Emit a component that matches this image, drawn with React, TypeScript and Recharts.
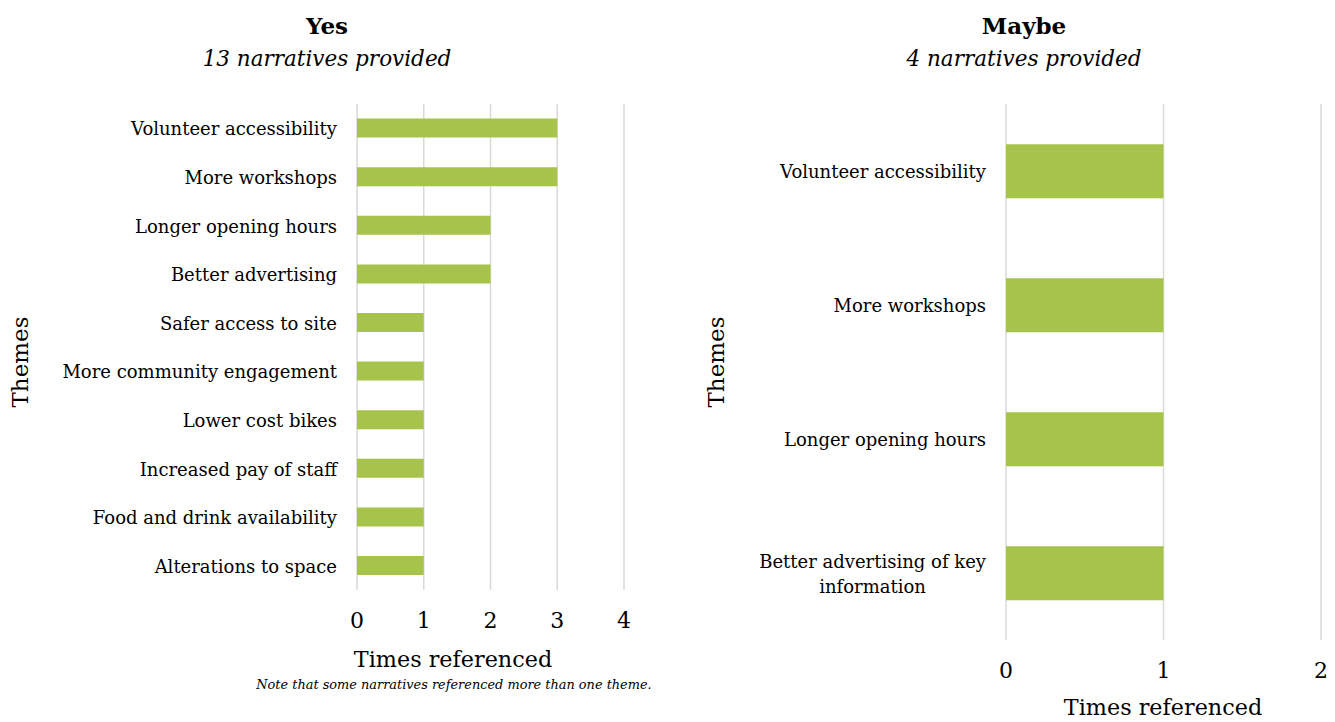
import { Bar, BarChart, CartesianGrid, XAxis, YAxis } from 'recharts';

// Two survey panels side by side: themes raised by "Yes" and "Maybe" respondents.

const YES_THEMES = [
  'Volunteer accessibility',
  'More workshops',
  'Longer opening hours',
  'Better advertising',
  'Safer access to site',
  'More community engagement',
  'Lower cost bikes',
  'Increased pay of staff',
  'Food and drink availability',
  'Alterations to space',
];
const YES_COUNTS = [3, 3, 2, 2, 1, 1, 1, 1, 1, 1];
const YES_TICKS = [0, 1, 2, 3, 4];

const MAYBE_THEMES = [
  'Volunteer accessibility',
  'More workshops',
  'Longer opening hours',
  'Better advertising of key information',
];
const MAYBE_COUNTS = [1, 1, 1, 1];
const MAYBE_TICKS = [0, 1, 2];

const FONT = '"DejaVu Serif", serif';
const BAR_COLOR = '#A6C34B';
const GRID_COLOR = '#D9D9D9';
const LABEL_SIZE = 18;

let measureCtx: CanvasRenderingContext2D | null = null;
function textWidth(text: string, size: number): number {
  if (!measureCtx) measureCtx = document.createElement('canvas').getContext('2d');
  if (!measureCtx) return text.length * size * 0.55;
  measureCtx.font = `${size}px ${FONT}`;
  return measureCtx.measureText(text).width;
}

function wrapWords(text: string, maxWidth: number, size: number): string[] {
  const lines: string[] = [];
  let cur = '';
  for (const w of text.split(' ')) {
    const next = cur ? `${cur} ${w}` : w;
    if (cur && textWidth(next, size) > maxWidth) {
      lines.push(cur);
      cur = w;
    } else {
      cur = next;
    }
  }
  if (cur) lines.push(cur);
  return lines;
}

function ThemeTick(props: any) {
  const { x, y, payload, maxWidth } = props;
  const lines = wrapWords(String(payload.value), maxWidth, LABEL_SIZE);
  const blockW = Math.max(...lines.map((l) => textWidth(l, LABEL_SIZE)));
  const cx = x - blockW / 2;
  const lineH = 25;
  const y0 = y - ((lines.length - 1) * lineH) / 2;
  return (
    <text
      x={cx}
      y={y0}
      textAnchor="middle"
      dominantBaseline="central"
      fontFamily={FONT}
      fontSize={LABEL_SIZE}
      fill="#000"
    >
      {lines.map((l, i) => (
        <tspan key={i} x={cx} y={y0 + i * lineH}>
          {l}
        </tspan>
      ))}
    </text>
  );
}

function ThemePanel({
  themes,
  counts,
  ticks,
  width,
  height,
  axisWidth,
  margin,
  wrapWidth,
}: {
  themes: string[];
  counts: number[];
  ticks: number[];
  width: number;
  height: number;
  axisWidth: number;
  margin: { top: number; right: number; bottom: number; left: number };
  wrapWidth: number;
}) {
  const data = themes.map((theme, i) => ({ theme, count: counts[i] }));
  return (
    <BarChart
      width={width}
      height={height}
      data={data}
      layout="vertical"
      margin={margin}
      barCategoryGap="30%"
    >
      <CartesianGrid horizontal={false} stroke={GRID_COLOR} strokeWidth={1.5} />
      <XAxis
        type="number"
        domain={[ticks[0], ticks[ticks.length - 1]]}
        ticks={ticks}
        axisLine={false}
        tickLine={false}
        tickSize={0}
        tickMargin={22}
        height={40}
        tick={{ fontFamily: FONT, fontSize: 22, fill: '#000' }}
      />
      <YAxis
        type="category"
        dataKey="theme"
        width={axisWidth}
        axisLine={false}
        tickLine={false}
        tickSize={0}
        tickMargin={20}
        interval={0}
        tick={<ThemeTick maxWidth={wrapWidth} />}
      />
      <Bar dataKey="count" fill={BAR_COLOR} isAnimationActive={false} />
    </BarChart>
  );
}

export default function App() {
  return (
    <div
      style={{
        position: 'absolute',
        left: 0,
        top: 0,
        width: 1335,
        height: 722,
        background: '#fff',
        fontFamily: FONT,
      }}
    >
      <div style={{ position: 'absolute', left: 0, top: 0 }}>
        <ThemePanel
          themes={YES_THEMES}
          counts={YES_COUNTS}
          ticks={YES_TICKS}
          width={660}
          height={722}
          axisWidth={357}
          margin={{ top: 104, right: 36, bottom: 92, left: 0 }}
          wrapWidth={400}
        />
      </div>
      <div style={{ position: 'absolute', left: 690, top: 0 }}>
        <ThemePanel
          themes={MAYBE_THEMES}
          counts={MAYBE_COUNTS}
          ticks={MAYBE_TICKS}
          width={645}
          height={722}
          axisWidth={316}
          margin={{ top: 104, right: 14, bottom: 42, left: 0 }}
          wrapWidth={250}
        />
      </div>
      <svg
        width={1335}
        height={722}
        style={{ position: 'absolute', left: 0, top: 0, pointerEvents: 'none' }}
        fontFamily={FONT}
        fill="#000"
      >
        <text x={327} y={34} textAnchor="middle" fontSize={23} fontWeight="bold">
          Yes
        </text>
        <text x={327} y={66} textAnchor="middle" fontSize={21.5} fontStyle="italic">
          13 narratives provided
        </text>
        <text x={1024} y={34} textAnchor="middle" fontSize={23} fontWeight="bold">
          Maybe
        </text>
        <text x={1024} y={66} textAnchor="middle" fontSize={21.5} fontStyle="italic">
          4 narratives provided
        </text>
        <text
          transform="translate(20 362) rotate(-90)"
          textAnchor="middle"
          dominantBaseline="central"
          fontSize={23}
        >
          Themes
        </text>
        <text
          transform="translate(716 362) rotate(-90)"
          textAnchor="middle"
          dominantBaseline="central"
          fontSize={23}
        >
          Themes
        </text>
        <text x={453} y={667} textAnchor="middle" fontSize={22.3}>
          Times referenced
        </text>
        <text x={454} y={689} textAnchor="middle" fontSize={12.9} fontStyle="italic">
          Note that some narratives referenced more than one theme.
        </text>
        <text x={1163} y={715} textAnchor="middle" fontSize={22.3}>
          Times referenced
        </text>
      </svg>
    </div>
  );
}
